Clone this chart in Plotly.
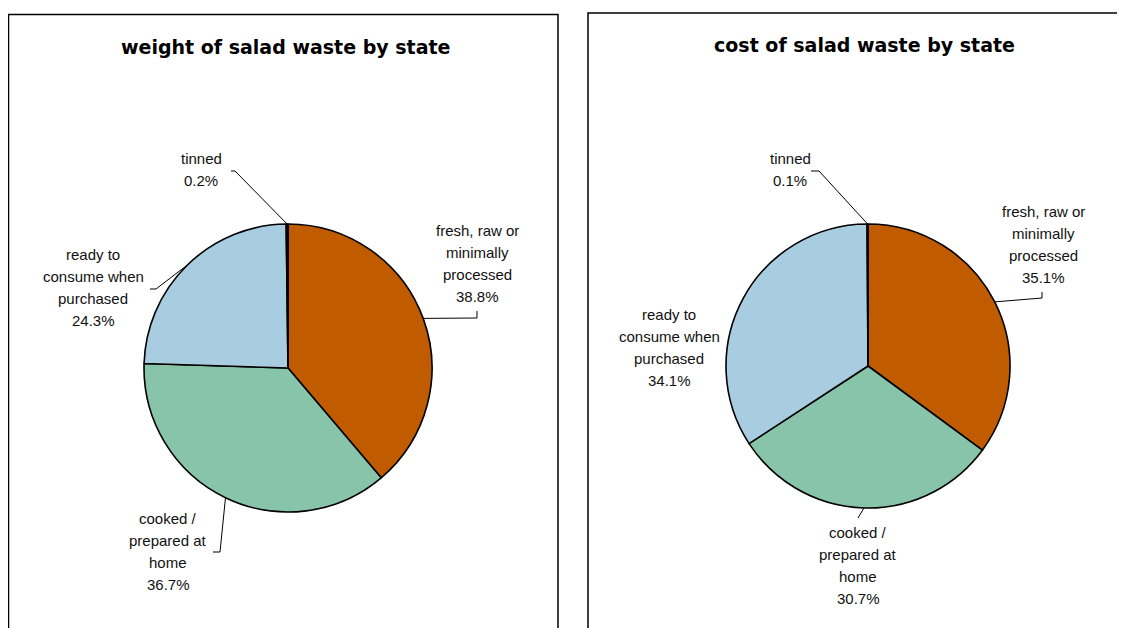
import math
import plotly.graph_objects as go

# ---------------- data ----------------
categories = ["fresh, raw or minimally processed", "cooked / prepared at home",
              "ready to consume when purchased", "tinned"]
weight_share = [38.8, 36.7, 24.3, 0.2]
cost_share = [35.1, 30.7, 34.1, 0.1]
titles = ["weight of salad waste by state", "cost of salad waste by state"]

# ---------------- layout constants ----------------
W, H = 1125, 628
OFF = 8  # page body margin offset of the rendered figure
colors = ["#C05B00", "#88C4AA", "#A8CDE0", "#000000"]
label_lines = {
    "fresh, raw or minimally processed": ["fresh, raw or", "minimally", "processed"],
    "cooked / prepared at home": ["cooked /", "prepared at", "home"],
    "ready to consume when purchased": ["ready to", "consume when", "purchased"],
    "tinned": ["tinned"],
}
panels = [
    dict(values=weight_share, title=titles[0], cx=288, cy=368, r=144, tx=285, ty=47,
         box=(8.5, 14.5, 558, 660),
         labels={  # label center x, first line y, leader points after anchor
             categories[0]: (477, 230, [(477, 318), (477, 311)]),
             categories[1]: (168, 518, [(220, 552), (213, 552)]),
             categories[2]: (93, 254, [(156, 289), (150, 289)]),
             categories[3]: (201, 158, [(235, 171), (231, 171)]),
         }),
    dict(values=cost_share, title=titles[1], cx=868, cy=366, r=142, tx=864, ty=45,
         box=(588, 13, 1145, 660),
         labels={
             categories[0]: (1043, 211, [(1042, 298), (1042, 292)]),
             categories[1]: (858, 532, [(858, 518)]),
             categories[2]: (669, 314, []),
             categories[3]: (790, 158, [(819, 171), (811, 171)]),
         }),
]
LINE_GAP = 22
FONT = "Liberation Sans, Arial, sans-serif"

fig = go.Figure()
shapes = []
annotations = []

for p in panels:
    cx, cy, r = p["cx"], p["cy"], p["r"]
    fig.add_trace(go.Pie(
        labels=categories, values=p["values"], sort=False, direction="clockwise",
        rotation=0, textinfo="none", hoverinfo="label+percent",
        marker=dict(colors=colors, line=dict(color="black", width=1.6)),
        domain=dict(x=[(cx - r - OFF) / W, (cx + r - OFF) / W],
                    y=[1 - (cy + r - OFF) / H, 1 - (cy - r - OFF) / H]),
        showlegend=False, automargin=False,
    ))
    x0, y0, x1, y1 = p["box"]
    shapes.append(dict(type="rect", xref="x", yref="y", x0=x0, y0=y0, x1=x1, y1=y1,
                       line=dict(color="black", width=1.5), fillcolor="rgba(0,0,0,0)", layer="above"))
    annotations.append(dict(x=p["tx"], y=p["ty"], xref="x", yref="y", text="<b>" + p["title"] + "</b>",
                            showarrow=False, font=dict(family="DejaVu Sans, sans-serif", size=19, color="black")))
    total = sum(p["values"])
    cum = 0.0
    for cat, v in zip(categories, p["values"]):
        mid = (cum + v / 2) / total * 2 * math.pi
        cum += v
        ax = cx + r * math.sin(mid)
        ay = cy - r * math.cos(mid)
        lx, ly, pts = p["labels"][cat]
        lines = label_lines[cat] + [f"{v / total * 100:.1f}%"]
        for i, t in enumerate(lines):
            annotations.append(dict(x=lx, y=ly + i * LINE_GAP, xref="x", yref="y", text=t,
                                    showarrow=False, font=dict(family=FONT, size=15, color="#111111")))
        if pts:
            path = f"M {ax:.1f} {ay:.1f} " + " ".join(f"L {x} {y}" for x, y in pts)
            shapes.append(dict(type="path", xref="x", yref="y", path=path,
                               line=dict(color="black", width=1), layer="above"))

fig.update_layout(
    width=W, height=H, margin=dict(l=0, r=0, t=0, b=0),
    paper_bgcolor="white", plot_bgcolor="rgba(0,0,0,0)",
    xaxis=dict(range=[OFF, W + OFF], visible=False, fixedrange=True, domain=[0, 1]),
    yaxis=dict(range=[H + OFF, OFF], visible=False, fixedrange=True, domain=[0, 1]),
    shapes=shapes, annotations=annotations,
)
fig.write_html("out.html")
